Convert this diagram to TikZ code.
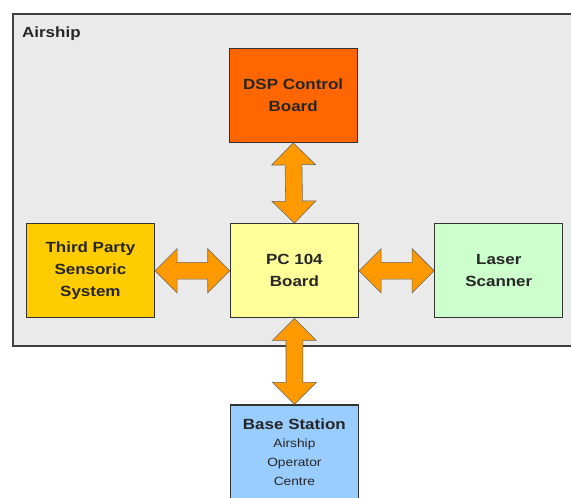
\documentclass[tikz,border=0pt]{standalone}
\usepackage{fontspec}
\setmainfont{Liberation Sans}[FakeStretch=1.15]
\usepackage{tikz}
\usetikzlibrary{
  calc
}

\definecolor{dspred}{HTML}{FF6600}
\definecolor{sensgold}{HTML}{FFCC00}
\definecolor{pcyellow}{HTML}{FFFF99}
\definecolor{lasergreen}{HTML}{CCFFCC}
\definecolor{baseblue}{HTML}{99CCFF}
\definecolor{busorange}{HTML}{FF9900}
\definecolor{shipgray}{HTML}{EAEAEA}

\newcommand{\subfont}{\fontsize{8.5}{12}\selectfont\mdseries}

% 双方向バス矢印
\newcommand{\busarrow}[2]{%
  \filldraw[bus] (#1)
    -- ($(#1)!0.55cm!(#2)!0.55cm!90:(#2)$)
    -- ($(#1)!0.55cm!(#2)!0.21cm!90:(#2)$)
    -- ($(#2)!0.55cm!(#1)!0.21cm!-90:(#1)$)
    -- ($(#2)!0.55cm!(#1)!0.55cm!-90:(#1)$)
    -- (#2)
    -- ($(#2)!0.55cm!(#1)!0.55cm!90:(#1)$)
    -- ($(#2)!0.55cm!(#1)!0.21cm!90:(#1)$)
    -- ($(#1)!0.55cm!(#2)!0.21cm!-90:(#2)$)
    -- ($(#1)!0.55cm!(#2)!0.55cm!-90:(#2)$)
    -- cycle;}

\begin{document}
\begin{tikzpicture}[
  board/.style={draw=black!80,line width=0.9pt,
    minimum width=3.2cm,minimum height=2.35cm,
    align=center,text=black!85,
    font=\fontsize{10.5}{15.5}\selectfont\bfseries},
  bus/.style={fill=busorange,draw=black!60,line width=0.4pt,line join=miter}
]

\useasboundingbox (0,0) rectangle (14.275,12.45);

%--------------------
% 飛行船
%--------------------
\draw[fill=shipgray,draw=black!75,line width=0.9pt]
  (0.325,3.8) rectangle (15.0,12.1);
\node[anchor=base west,text=black!85,
  font=\fontsize{10.5}{15.5}\selectfont\bfseries]
  (ship) at (0.43,11.52) {Airship};

% ボード
\node[board,fill=dspred] (dsp) at (7.33,10.07)
  {DSP Control\\Board};
\node[board,fill=sensgold] (sensors) at (2.26,5.68)
  {Third Party\\Sensoric\\System};
\node[board,fill=pcyellow] (pc) at (7.36,5.68)
  {PC 104\\Board};
\node[board,fill=lasergreen] (laser) at (12.47,5.68)
  {Laser\\Scanner};

%--------------------
% 地上局
%--------------------
\node[board,fill=baseblue] (base) at (7.36,1.15)
  {Base Station\\[-2.5pt]
   \subfont Airship\\[-2pt]
   \subfont Operator\\[-2pt]
   \subfont Centre};

% バス
\busarrow{dsp.south}{pc.north}
\busarrow{sensors.east}{pc.west}
\busarrow{pc.east}{laser.west}
\busarrow{pc.south}{base.north}

\end{tikzpicture}
\end{document}
